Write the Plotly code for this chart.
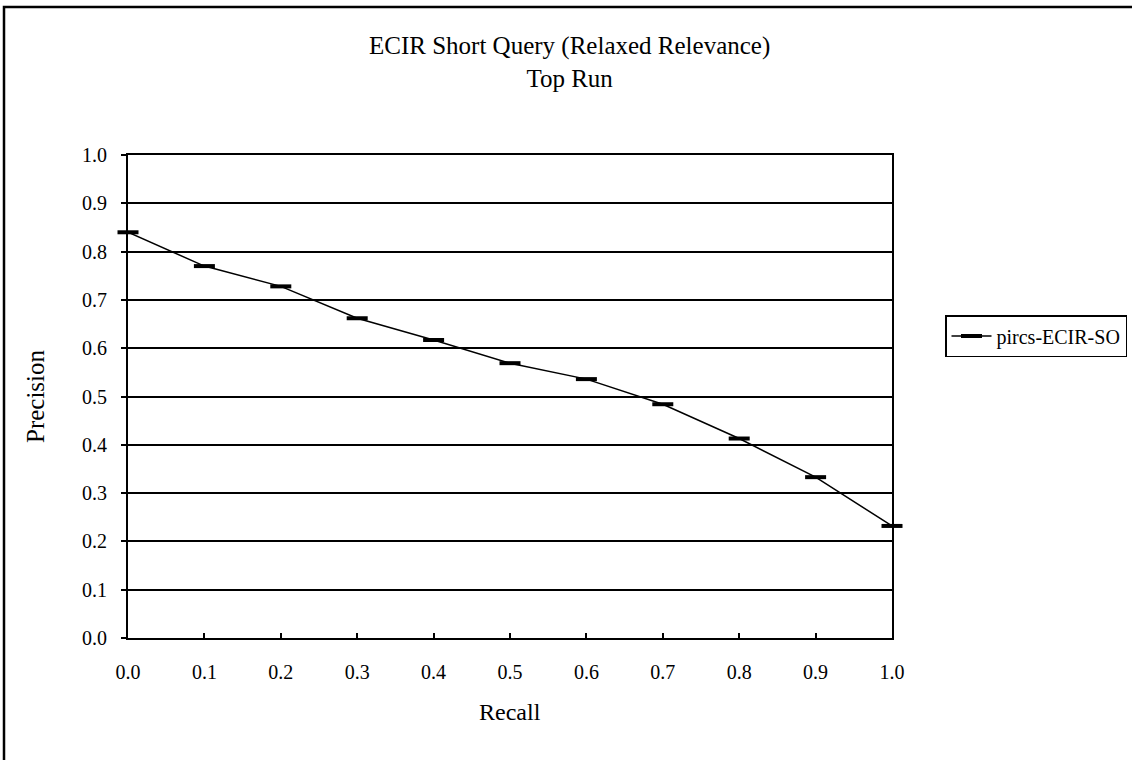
import plotly.graph_objects as go

# Recall levels and interpolated precision for the run
recall = [0.0, 0.1, 0.2, 0.3, 0.4, 0.5, 0.6, 0.7, 0.8, 0.9, 1.0]
precision = [0.840, 0.770, 0.728, 0.662, 0.617, 0.569, 0.536, 0.484, 0.413, 0.333, 0.232]
series_name = "pircs-ECIR-SO"
x_ticks = ["0.0", "0.1", "0.2", "0.3", "0.4", "0.5", "0.6", "0.7", "0.8", "0.9", "1.0"]
y_ticks = ["0.0", "0.1", "0.2", "0.3", "0.4", "0.5", "0.6", "0.7", "0.8", "0.9", "1.0"]

FONT = "Liberation Serif"
W, H = 1132, 760
L, R, T, B = 128, 240, 155, 122
pw, ph = W - L - R, H - T - B

fig = go.Figure()
fig.add_trace(go.Scatter(
    x=recall, y=precision, name=series_name, mode="lines+markers",
    line=dict(color="black", width=1.5),
    marker=dict(symbol="line-ew", size=15, color="black",
                line=dict(color="black", width=4)),
    cliponaxis=False,
))

def px_to_paper_x(px):
    return (px - L) / pw

def px_to_paper_y(py):
    return (H - B - py) / ph

fig.update_layout(
    width=W, height=H,
    margin=dict(l=L, r=R, t=T, b=B, autoexpand=False),
    paper_bgcolor="white", plot_bgcolor="white",
    font=dict(family=FONT, size=20, color="black"),
    showlegend=True,
    legend=dict(
        x=px_to_paper_x(1127), y=px_to_paper_y(336),
        xanchor="right", yanchor="middle",
        bordercolor="black", borderwidth=1.5, bgcolor="white",
        font=dict(family=FONT, size=20, color="black"),
        itemwidth=40, tracegroupgap=0,
    ),
    xaxis=dict(
        range=[0, 1], tickmode="array", tickvals=recall, ticktext=x_ticks,
        showline=True, linecolor="black", linewidth=2, mirror=True,
        showgrid=False, zeroline=False,
        ticks="inside", ticklen=5, tickwidth=1.5, tickcolor="black",
        ticklabelstandoff=15,
        tickfont=dict(family=FONT, size=20, color="black"),
    ),
    yaxis=dict(
        range=[0, 1], tickmode="array",
        tickvals=[i / 10 for i in range(11)], ticktext=y_ticks,
        showline=True, linecolor="black", linewidth=2, mirror=True,
        showgrid=True, gridcolor="black", gridwidth=1.5, zeroline=False,
        ticks="outside", ticklen=5, tickwidth=1.5, tickcolor="black",
        ticklabelstandoff=10,
        tickfont=dict(family=FONT, size=20, color="black"),
    ),
    annotations=[
        dict(text="ECIR Short Query (Relaxed Relevance)<br>Top Run",
             xref="paper", yref="paper",
             x=px_to_paper_x(569), y=px_to_paper_y(62),
             xanchor="center", yanchor="middle", showarrow=False,
             font=dict(family=FONT, size=25, color="black")),
        dict(text="Precision", xref="paper", yref="paper",
             x=px_to_paper_x(35), y=px_to_paper_y(396),
             xanchor="center", yanchor="middle", showarrow=False, textangle=-90,
             font=dict(family=FONT, size=25, color="black")),
        dict(text="Recall", xref="paper", yref="paper",
             x=px_to_paper_x(510), y=px_to_paper_y(712),
             xanchor="center", yanchor="middle", showarrow=False,
             font=dict(family=FONT, size=24, color="black")),
    ],
    shapes=[
        dict(type="rect", xref="paper", yref="paper",
             x0=px_to_paper_x(4), y0=px_to_paper_y(800),
             x1=px_to_paper_x(1200), y1=px_to_paper_y(7),
             line=dict(color="black", width=2.5), fillcolor="rgba(0,0,0,0)",
             layer="below"),
    ],
)

fig.write_html("out.html")
